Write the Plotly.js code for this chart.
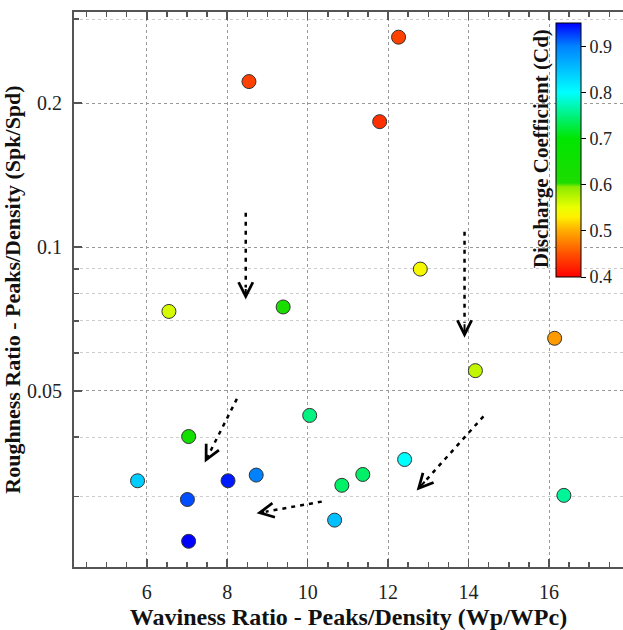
<!DOCTYPE html>
<html><head><meta charset="utf-8">
<script src="https://cdn.plot.ly/plotly-3.0.1.min.js"></script>
<style>html,body{margin:0;padding:0;background:#fff}</style>
</head><body><div id="chart" style="width:623px;height:630px"></div>
<script>
// Data
const waviness  = [12.26, 8.54, 11.79, 12.80, 6.55, 9.39, 16.14, 14.17, 10.05, 7.04, 12.41, 11.37, 10.85, 16.37, 10.67, 5.77, 8.02, 8.72, 7.01, 7.04];
const roughness = [0.275, 0.222, 0.183, 0.0899, 0.0733, 0.0749, 0.0644, 0.0551, 0.0444, 0.0401, 0.0359, 0.0334, 0.0317, 0.0302, 0.0268, 0.0324, 0.0324, 0.0333, 0.0296, 0.0242];
const cd        = [0.44, 0.44, 0.43, 0.54, 0.56, 0.62, 0.49, 0.57, 0.75, 0.64, 0.80, 0.74, 0.74, 0.76, 0.85, 0.84, 0.94, 0.90, 0.92, 0.95];

// Trend arrows (start -> tip), in data units
const arrowStartX = [8.46, 13.90, 8.24, 14.37, 10.35];
const arrowStartY = [0.118, 0.1076, 0.0481, 0.0442, 0.0293];
const arrowEndX   = [8.46, 13.90, 7.44, 12.71, 8.73];
const arrowEndY   = [0.0776, 0.0646, 0.0354, 0.0309, 0.0277];

const yTickVals = [0.05, 0.1, 0.2];
const yTickText = ['0.05', '0.1', '0.2'];
const yMinorVals = [0.03, 0.04, 0.06, 0.07, 0.08, 0.09, 0.3];
const cdTickVals = [0.4, 0.5, 0.6, 0.7, 0.8, 0.9];

const serif = 'Liberation Serif, Times New Roman, serif';
const axisCol = '#555';

const colorscale = [
  [0.0, 'rgb(255,0,0)'],
  [0.09, 'rgb(255,80,0)'],
  [0.18, 'rgb(255,170,0)'],
  [0.236, 'rgb(255,240,0)'],
  [0.273, 'rgb(235,255,0)'],
  [0.355, 'rgb(140,235,0)'],
  [0.37, 'rgb(30,220,0)'],
  [0.545, 'rgb(0,230,0)'],
  [0.727, 'rgb(0,255,255)'],
  [0.909, 'rgb(0,130,255)'],
  [1.0, 'rgb(0,0,255)']
];

const trace = {
  type: 'scatter', mode: 'markers',
  x: waviness, y: roughness,
  marker: {
    size: 14, color: cd, cmin: 0.4, cmax: 0.95, colorscale: colorscale,
    line: {color: '#333', width: 1},
    colorbar: {
      x: 0.878, xanchor: 'left', y: 0.980, yanchor: 'top',
      thickness: 25, len: 0.458, lenmode: 'fraction',
      outlinewidth: 1, outlinecolor: '#000',
      tickmode: 'array', tickvals: cdTickVals,
      ticks: 'outside', ticklen: 5, tickcolor: '#000',
      tickfont: {family: serif, size: 18, color: '#222'},
      xpad: 0, ypad: 0, borderwidth: 0
    }
  },
  hoverinfo: 'x+y'
};

const shapes = [];
const annotations = [];
for (let i = 0; i < arrowStartX.length; i++) {
  const lx0 = Math.log10(arrowStartY[i]), lx1 = Math.log10(arrowEndY[i]);
  const f = 0.14;
  const tailX = arrowEndX[i] + (arrowStartX[i] - arrowEndX[i]) * f;
  const tailLY = lx1 + (lx0 - lx1) * f;
  shapes.push({
    type: 'line', xref: 'x', yref: 'y',
    x0: arrowStartX[i], y0: arrowStartY[i],
    x1: tailX, y1: Math.pow(10, tailLY),
    line: {color: '#000', width: 2.5, dash: '4px,5px'}
  });
  annotations.push({
    xref: 'x', yref: 'y', axref: 'x', ayref: 'y',
    x: arrowEndX[i], y: lx1, ax: tailX, ay: tailLY,
    text: '', showarrow: true, arrowhead: 5, arrowsize: 1.4, arrowwidth: 2, arrowcolor: '#000'
  });
}
annotations.push({
  xref: 'paper', yref: 'paper', x: 0.851, y: 0.753,
  xanchor: 'center', yanchor: 'middle',
  text: '<b>Discharge Coefficient (Cd)</b>', textangle: -90, showarrow: false,
  font: {family: serif, size: 21, color: '#111'}
});

const layout = {
  width: 623, height: 630,
  margin: {l: 74, r: 0, t: 12, b: 63},
  paper_bgcolor: '#fff', plot_bgcolor: '#fff',
  showlegend: false,
  font: {family: serif, color: '#222'},
  xaxis: {
    range: [4.19, 17.84], tick0: 0, dtick: 2,
    ticks: 'inside', ticklen: 8, tickwidth: 1.5, tickcolor: axisCol,
    showline: true, linecolor: axisCol, linewidth: 2, mirror: 'ticks',
    showgrid: true, gridcolor: '#999', griddash: 'dot', gridwidth: 1,
    zeroline: false,
    minor: {dtick: 0.5, ticks: 'inside', ticklen: 5, tickwidth: 1.5, tickcolor: axisCol, showgrid: false},
    tickfont: {family: serif, size: 20, color: '#222'},
    ticklabelstandoff: 6,
    title: {text: '<b>Waviness Ratio - Peaks/Density (Wp/WPc)</b>', font: {family: serif, size: 24, color: '#111'}, standoff: 10}
  },
  yaxis: {
    type: 'log', range: [Math.log10(0.02138), Math.log10(0.3105)],
    tickmode: 'array', tickvals: yTickVals, ticktext: yTickText,
    ticks: 'inside', ticklen: 8, tickwidth: 1.5, tickcolor: axisCol,
    showline: true, linecolor: axisCol, linewidth: 2, mirror: false,
    showgrid: true, gridcolor: '#999', griddash: 'dot', gridwidth: 1,
    zeroline: false,
    minor: {tickmode: 'array', tickvals: yMinorVals, ticks: 'inside', ticklen: 5, tickwidth: 1.5, tickcolor: axisCol,
            showgrid: true, gridcolor: '#ccc', griddash: 'dot', gridwidth: 1},
    tickfont: {family: serif, size: 20, color: '#222'},
    ticklabelstandoff: 6,
    title: {text: '<b>Roughness Ratio - Peaks/Density (Spk/Spd)</b>', font: {family: serif, size: 22, color: '#111'}, standoff: 8}
  },
  shapes: shapes,
  annotations: annotations
};

Plotly.newPlot('chart', [trace], layout, {displayModeBar: false, staticPlot: true});
</script></body></html>
